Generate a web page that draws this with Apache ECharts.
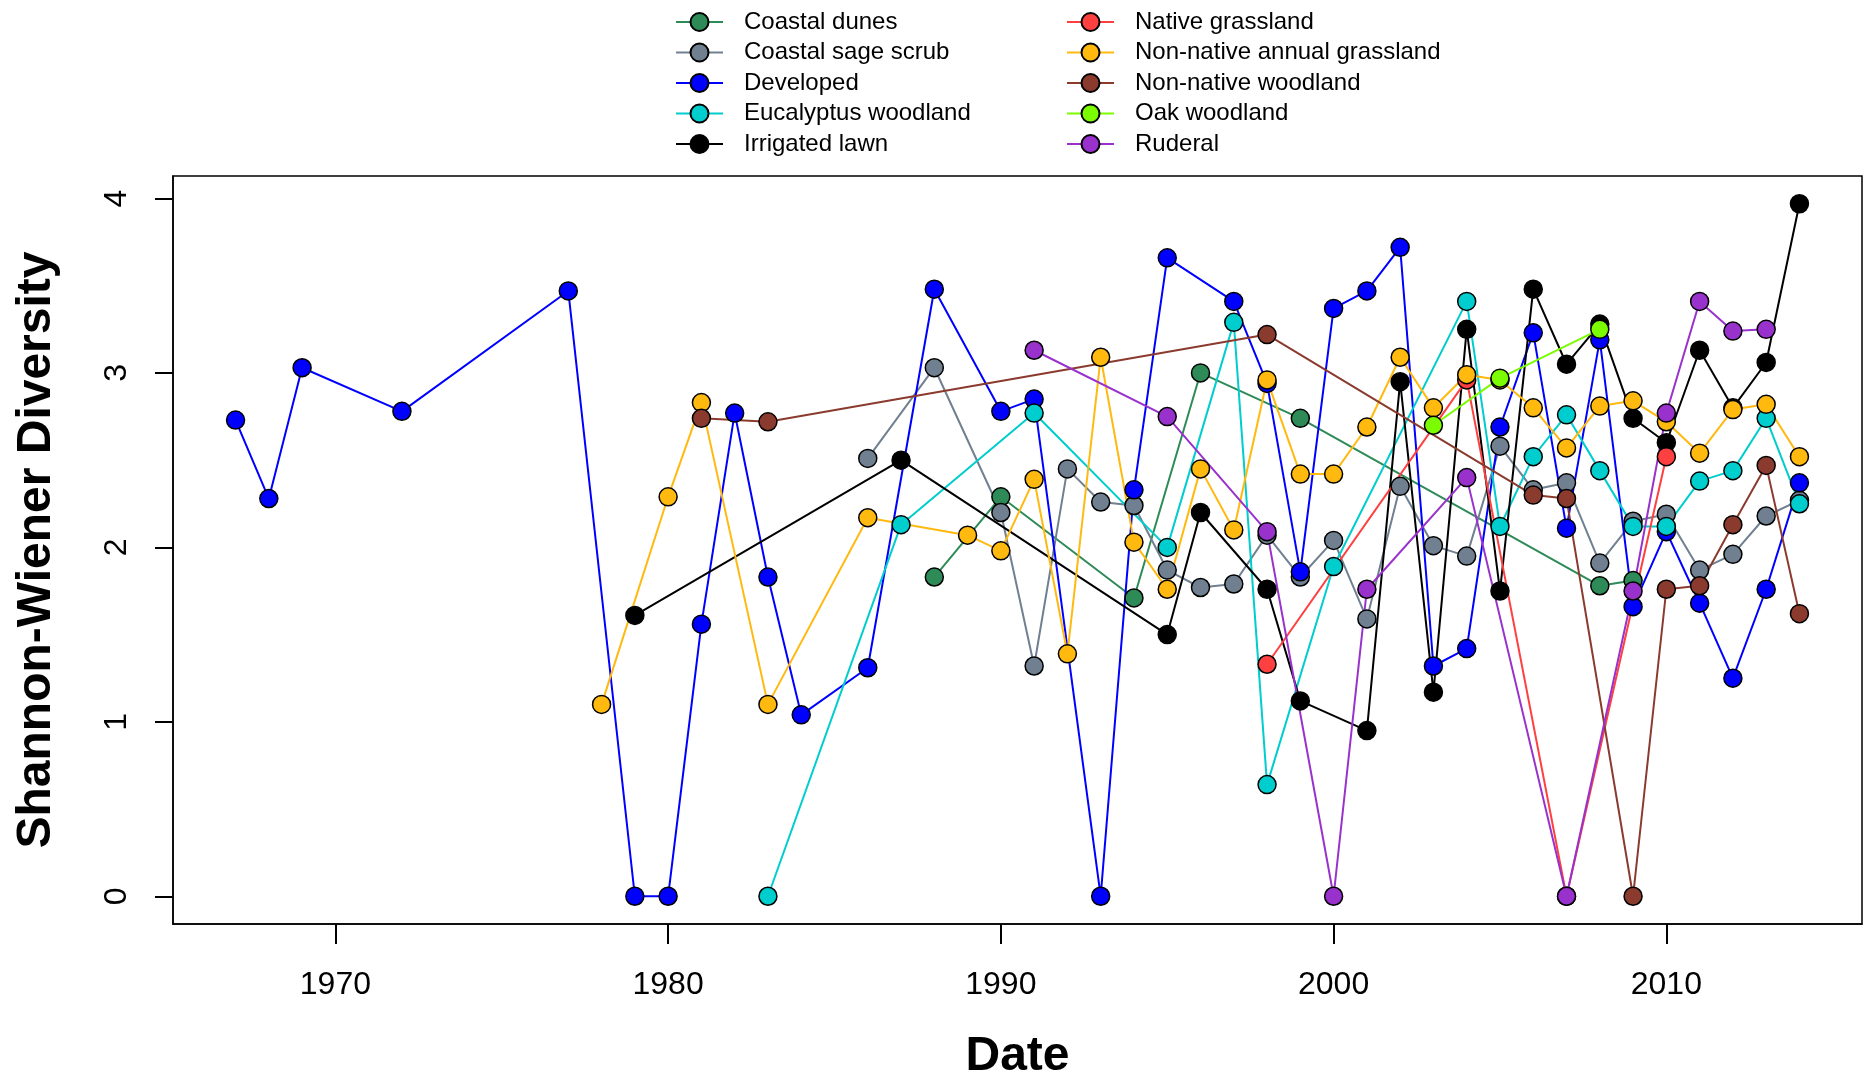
<!DOCTYPE html>
<html>
<head>
<meta charset="utf-8">
<script src="https://cdn.jsdelivr.net/npm/echarts@6/dist/echarts.min.js"></script>
<style>
  html, body { margin: 0; padding: 0; background: #fff; }
  #chart { width: 1871px; height: 1078px; }
</style>
</head>
<body>
<div id="chart"></div>
<script>
// ---- Data ----
const xTickLabels = [1970, 1980, 1990, 2000, 2010];
const yTickLabels = [0, 1, 2, 3, 4];

const coastalDunesYears = [1988, 1990, 1994, 1996, 1999, 2008, 2009];
const coastalDunesValues = [1.83, 2.29, 1.71, 3.00, 2.74, 1.78, 1.81];

const coastalSageYears = [1986, 1988, 1990, 1991, 1992, 1993, 1994, 1995, 1996, 1997, 1998, 1999, 2000, 2001, 2002, 2003, 2004, 2005, 2006, 2007, 2008, 2009, 2010, 2011, 2012, 2013, 2014];
const coastalSageValues = [2.51, 3.03, 2.20, 1.32, 2.45, 2.26, 2.24, 1.87, 1.77, 1.79, 2.07, 1.83, 2.04, 1.59, 2.35, 2.01, 1.95, 2.58, 2.33, 2.37, 1.91, 2.15, 2.19, 1.87, 1.96, 2.18, 2.27];

const developedYears = [1967, 1968, 1969, 1972, 1977, 1979, 1980, 1981, 1982, 1983, 1984, 1986, 1988, 1990, 1991, 1993, 1994, 1995, 1997, 1998, 1999, 2000, 2001, 2002, 2003, 2004, 2005, 2006, 2007, 2008, 2009, 2010, 2011, 2012, 2013, 2014];
const developedValues = [2.73, 2.28, 3.03, 2.78, 3.47, 0, 0, 1.56, 2.77, 1.83, 1.04, 1.31, 3.48, 2.78, 2.85, 0, 2.33, 3.66, 3.41, 2.94, 1.86, 3.37, 3.47, 3.72, 1.32, 1.42, 2.69, 3.23, 2.11, 3.19, 1.66, 2.09, 1.68, 1.25, 1.76, 2.37];

const eucalyptusYears = [1983, 1987, 1991, 1995, 1997, 1998, 2000, 2004, 2005, 2006, 2007, 2008, 2009, 2010, 2011, 2012, 2013, 2014];
const eucalyptusValues = [0, 2.13, 2.77, 2.00, 3.29, 0.64, 1.89, 3.41, 2.12, 2.52, 2.76, 2.44, 2.12, 2.12, 2.38, 2.44, 2.74, 2.25];

const irrigatedYears = [1979, 1987, 1995, 1996, 1998, 1999, 2001, 2002, 2003, 2004, 2005, 2006, 2007, 2008, 2009, 2010, 2011, 2012, 2013, 2014];
const irrigatedValues = [1.61, 2.50, 1.50, 2.20, 1.76, 1.12, 0.95, 2.95, 1.17, 3.25, 1.75, 3.48, 3.05, 3.28, 2.74, 2.60, 3.13, 2.80, 3.06, 3.97];

const nativeGrassYears = [1998, 2004, 2007, 2010];
const nativeGrassValues = [1.33, 2.96, 0, 2.52];

const annualGrassYears = [1978, 1980, 1981, 1983, 1986, 1989, 1990, 1991, 1992, 1993, 1994, 1995, 1996, 1997, 1998, 1999, 2000, 2001, 2002, 2003, 2004, 2005, 2006, 2007, 2008, 2009, 2010, 2011, 2012, 2013, 2014];
const annualGrassValues = [1.10, 2.29, 2.83, 1.10, 2.17, 2.07, 1.98, 2.39, 1.39, 3.09, 2.03, 1.76, 2.45, 2.10, 2.96, 2.42, 2.42, 2.69, 3.09, 2.80, 2.99, 2.96, 2.80, 2.57, 2.81, 2.84, 2.72, 2.54, 2.79, 2.82, 2.52];

const nonNativeWoodYears = [1981, 1983, 1998, 2006, 2007, 2009, 2010, 2011, 2012, 2013, 2014];
const nonNativeWoodValues = [2.74, 2.72, 3.22, 2.30, 2.28, 0, 1.76, 1.78, 2.13, 2.47, 1.62];

const oakYears = [2003, 2005, 2008];
const oakValues = [2.70, 2.97, 3.25];

const ruderalYears = [1991, 1995, 1998, 2000, 2001, 2004, 2007, 2009, 2010, 2011, 2012, 2013];
const ruderalValues = [3.13, 2.75, 2.09, 0, 1.76, 2.40, 0, 1.75, 2.77, 3.41, 3.24, 3.25];

const seriesNames = ['Coastal dunes', 'Coastal sage scrub', 'Developed', 'Eucalyptus woodland', 'Irrigated lawn',
  'Native grassland', 'Non-native annual grassland', 'Non-native woodland', 'Oak woodland', 'Ruderal'];
const seriesColors = ['#2E8B57', '#708090', '#0000FF', '#00CDCD', '#000000',
  '#FF4040', '#FFB90F', '#8B3A2E', '#7CFC00', '#9932CC'];
const seriesYears = [coastalDunesYears, coastalSageYears, developedYears, eucalyptusYears, irrigatedYears,
  nativeGrassYears, annualGrassYears, nonNativeWoodYears, oakYears, ruderalYears];
const seriesValues = [coastalDunesValues, coastalSageValues, developedValues, eucalyptusValues, irrigatedValues,
  nativeGrassValues, annualGrassValues, nonNativeWoodValues, oakValues, ruderalValues];

// ---- Chart ----
const FONT = '"Liberation Sans", Arial, sans-serif';
const chart = echarts.init(document.getElementById('chart'), null, { renderer: 'canvas' });

const series = seriesNames.map((name, i) => ({
  name: name,
  type: 'line',
  data: seriesYears[i].map((yr, j) => [yr, seriesValues[i][j]]),
  symbol: 'circle',
  symbolSize: 18,
  showSymbol: true,
  showAllSymbol: true,
  lineStyle: { color: seriesColors[i], width: 2 },
  itemStyle: { color: seriesColors[i], borderColor: '#000', borderWidth: 1.5 },
  emphasis: { disabled: true },
  animation: false
}));

const legendCommon = {
  orient: 'vertical',
  padding: 0,
  itemWidth: 47,
  itemHeight: 22.5,
  itemGap: 6.5,
  textStyle: { fontFamily: FONT, fontSize: 24, color: '#000', padding: [0, 0, 0, 16] },
  selectedMode: false
};

const option = {
  backgroundColor: '#fff',
  animation: false,
  legend: [
    Object.assign({}, legendCommon, { left: 675, top: 10, data: seriesNames.slice(0, 5) }),
    Object.assign({}, legendCommon, { left: 1066, top: 10, data: seriesNames.slice(5) })
  ],
  grid: {
    left: 173, right: 9, top: 176, bottom: 154,
    outerBoundsMode: 'none',
    show: true, borderColor: '#000', borderWidth: 1.5, backgroundColor: 'transparent'
  },
  xAxis: {
    type: 'value',
    min: 1965.12, max: 2015.88,
    name: 'Date',
    nameLocation: 'middle',
    nameGap: 109,
    nameTextStyle: { fontFamily: FONT, fontSize: 48, fontWeight: 'bold', color: '#000' },
    axisLine: { show: true, onZero: false, lineStyle: { color: '#000', width: 1.5 } },
    splitLine: { show: false },
    axisTick: { show: true, length: 20, lineStyle: { color: '#000', width: 2 }, customValues: xTickLabels },
    axisLabel: { fontFamily: FONT, fontSize: 32, color: '#000', margin: 45, customValues: xTickLabels,
      formatter: function (v) { return String(v); } }
  },
  yAxis: {
    type: 'value',
    min: -0.159, max: 4.129,
    name: 'Shannon-Wiener Diversity',
    nameLocation: 'middle',
    nameGap: 112,
    nameTextStyle: { fontFamily: FONT, fontSize: 48, fontWeight: 'bold', color: '#000' },
    axisLine: { show: true, onZero: false, lineStyle: { color: '#000', width: 1.5 } },
    splitLine: { show: false },
    axisTick: { show: true, length: 18, lineStyle: { color: '#000', width: 2 }, customValues: yTickLabels },
    axisLabel: { fontFamily: FONT, fontSize: 32, color: '#000', margin: 40, rotate: 90, customValues: yTickLabels,
      formatter: function (v) { return String(v); } }
  },
  series: series
};

chart.setOption(option);
</script>
</body>
</html>
